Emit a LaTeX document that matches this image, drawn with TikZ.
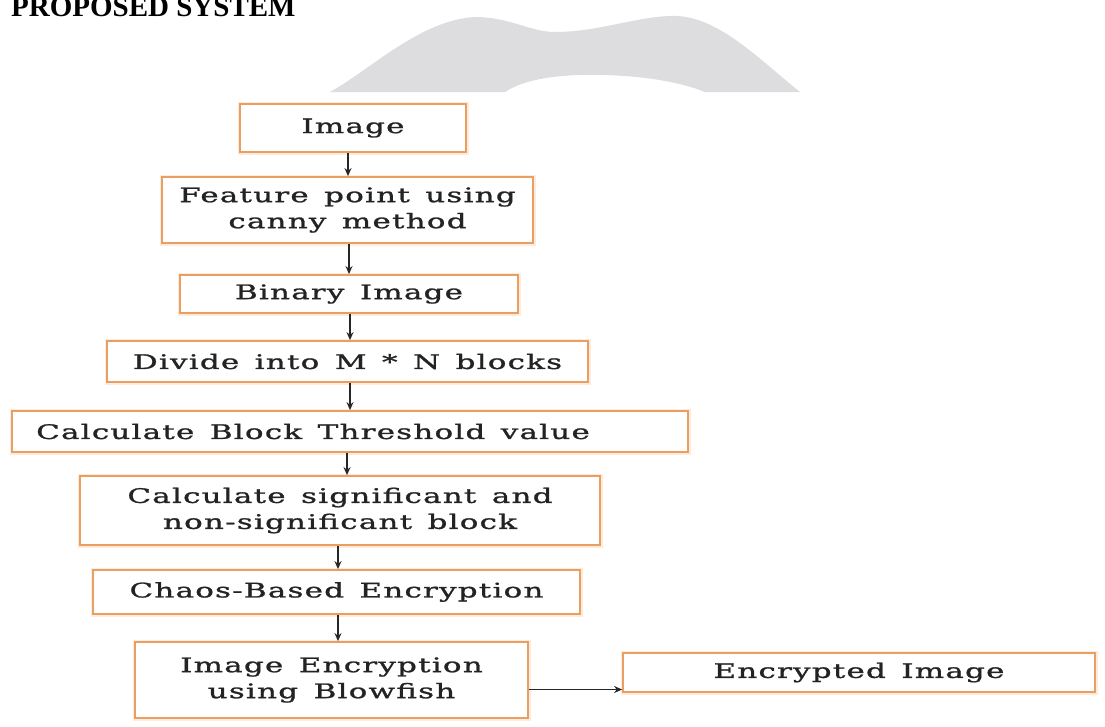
\documentclass[tikz,border=0pt]{standalone}
\usepackage{fontspec}
\setmainfont{DejaVu Serif}
\newfontfamily\boxfont{DejaVu Serif}[FakeStretch=1.55,LetterSpace=6,WordSpace=1.4,FakeBold=1.2]
\newfontfamily\titlefont{Liberation Serif}
\usetikzlibrary{arrows.meta}
\definecolor{boxc}{RGB}{234,158,96}
\definecolor{glowc}{RGB}{253,236,222}
\definecolor{blobc}{RGB}{221,221,223}
\definecolor{txtc}{RGB}{35,35,35}
\begin{document}
\begin{tikzpicture}[x=1pt,y=-1pt,
  box/.style={draw=boxc, line width=1.8pt, fill=white, inner sep=0pt, align=center,
    text=txtc, font=\boxfont\fontsize{20}{26}\selectfont,
    preaction={draw=glowc, line width=5pt}},
  arr/.style={-{Stealth[length=8pt,width=7pt]}, line width=1.3pt, draw=black!85}]
\fill[white] (0,0) rectangle (1105,726);
\useasboundingbox (0,0) rectangle (1105,726);
% watermark blob
\fill[blobc] (330,92) .. controls (370,70) and (420,20) .. (475,17)
  .. controls (510,17) and (530,32) .. (555,32)
  .. controls (600,32) and (640,15) .. (677,16)
  .. controls (720,18) and (760,60) .. (800,92)
  -- (705,92) .. controls (670,78) and (620,74) .. (580,75)
  .. controls (545,76) and (520,82) .. (505,92) -- cycle;
% title
\node[anchor=base west, inner sep=0pt, font=\titlefont\bfseries\fontsize{29}{31}\selectfont] (title) at (11,16) {PROPOSED SYSTEM};
% boxes
\node[box, minimum width=226pt, minimum height=48pt] (img) at (353,128) {Image};
\node[box, minimum width=371pt, minimum height=66pt] (feat) at (347.5,210) {Feature point using\\canny method};
\node[box, minimum width=338pt, minimum height=38pt] (bin) at (349,294) {Binary Image};
\node[box, minimum width=481pt, minimum height=41pt] (div) at (347.5,361.5) {Divide into M * N blocks};
\node[box, minimum width=676pt, minimum height=41pt] (thr) at (350,431.5) {Calculate Block Threshold value\hspace*{74pt}};
\node[box, minimum width=520pt, minimum height=69pt] (sig) at (340,510.5) {Calculate significant and\\non-significant block};
\node[box, minimum width=487pt, minimum height=44pt] (chaos) at (336.5,592) {Chaos-Based Encryption};
\node[box, minimum width=393pt, minimum height=76pt] (blow) at (331.5,680) {Image Encryption\\using Blowfish};
\node[box, minimum width=472pt, minimum height=39pt] (enc) at (859,672.5) {Encrypted Image};
% arrows
\draw[arr] ([xshift=-5pt]img.south) -- ([xshift=-5pt]img.south |- feat.north);
\draw[arr] ([xshift=1.5pt]feat.south) -- ([xshift=1.5pt]feat.south |- bin.north);
\draw[arr] ([xshift=1pt]bin.south) -- ([xshift=1pt]bin.south |- div.north);
\draw[arr] ([xshift=2.5pt]div.south) -- ([xshift=2.5pt]div.south |- thr.north);
\draw[arr] ([xshift=-3pt]thr.south) -- ([xshift=-3pt]thr.south |- sig.north);
\draw[arr] ([xshift=-2pt]sig.south) -- ([xshift=-2pt]sig.south |- chaos.north);
\draw[arr] ([xshift=1.5pt]chaos.south) -- ([xshift=1.5pt]chaos.south |- blow.north);
\draw[arr] ([yshift=-9.5pt]blow.east) -- ([yshift=-9.5pt]blow.east -| enc.west);
\end{tikzpicture}
\end{document}
